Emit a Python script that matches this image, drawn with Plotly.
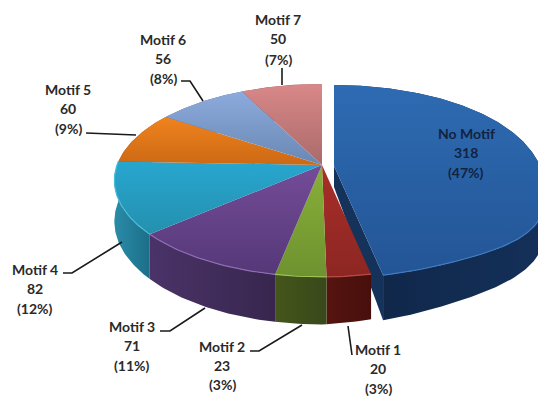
import numpy as np
import plotly.graph_objects as go

# ---- data ----
categories = ["No Motif", "Motif 1", "Motif 2", "Motif 3", "Motif 4", "Motif 5", "Motif 6", "Motif 7"]
values = [318, 20, 23, 71, 82, 60, 56, 50]
percents = ["(47%)", "(3%)", "(3%)", "(11%)", "(12%)", "(9%)", "(8%)", "(7%)"]

# ---- style ----
top_light = ["#2e6bb2", "#a82e29", "#88b038", "#744c98", "#28a6cf", "#f0831e", "#8caadc", "#d98888"]
top_dark = ["#235596", "#8c2622", "#6e9230", "#553878", "#2490ae", "#cc6914", "#6a88b4", "#aa6a6a"]
side_light = ["#14305a", "#561410", "#44561a", "#4a3368", "#2a8ca8", "#a05510", "#50688c", "#805050"]
side_dark = ["#0f2545", "#470f0c", "#39481a", "#38264e", "#1c6e88", "#a05510", "#50688c", "#805050"]
rim = ["#3f7cc4", "#b84a44", "#9cc450", "#8e6cb4", "#4cbcdc", "#f09a40", "#a0bce4", "#e0a0a0"]
text_colors = ["#12233f"] + ["#2a2a2a"] * 7

label_pos = {  # centre x, line y positions in pixels
    "No Motif": (466, [133, 152, 172]),
    "Motif 1": (378, [349, 368, 388]),
    "Motif 2": (222, [346, 365, 384]),
    "Motif 3": (132, [326, 345, 365]),
    "Motif 4": (35, [269, 288, 308]),
    "Motif 5": (68, [89, 108, 128]),
    "Motif 6": (163, [39, 58, 78]),
    "Motif 7": (278, [19, 38, 59]),
}
leaders = {
    "Motif 1": [(352, 355), (348, 326)],
    "Motif 2": [(250, 351), (259, 351), (302, 325)],
    "Motif 3": [(160, 331), (170, 331), (205, 308)],
    "Motif 4": [(63, 273), (72, 273), (122, 242)],
    "Motif 5": [(86, 133), (136, 135)],
    "Motif 6": [(181, 81), (190, 81), (203, 101)],
    "Motif 7": [(282, 68), (282, 85)],
}

# ---- perspective projection of the pie ----
W, H = 538, 396
CX, CY = 322, 165
A, B, K = 205, 94, 0.16
DEPTH = 40


def project(theta):
    d = 1 + K * np.cos(theta)
    return A * np.sin(theta) / d, -B * np.cos(theta) / d


def bulge(theta):
    # the photographed pie swells to the lower right, past the picture's edge
    w = np.clip(np.sin(2 * (theta - np.radians(78))), 0, 1)
    w = np.where((theta > np.radians(78)) & (theta < np.radians(168)), w, 0)
    return 10 * w ** 2, 6 * w ** 4


def depth(theta):
    s = np.sin(theta)
    return DEPTH / (1 + K * np.cos(theta)) * (1 - np.where(s > 0, 0.25, 0.0) * s)


fig = go.Figure()


def poly(xs, ys, c0, c1, kind="vertical"):
    fig.add_trace(go.Scatter(
        x=list(xs) + [xs[0]], y=list(ys) + [ys[0]], mode="lines", fill="toself",
        line=dict(width=0), hoverinfo="skip", showlegend=False,
        fillgradient=dict(type=kind, colorscale=[[0, c0], [1, c1]]),
    ))


total = sum(values)
edges = np.cumsum([0] + values) / total * 2 * np.pi
slices = []
for i in range(len(values)):
    th = np.linspace(edges[i], edges[i + 1], max(int((edges[i + 1] - edges[i]) * 60), 4))
    ox, oy = (12, 1) if i == 0 else (0, 0)
    u, v = project(th)
    if i == 0:
        du, dv = bulge(th)
        u, v = u + du, v + dv
    slices.append((i, th, CX + ox + u, CY + oy + v, ox, oy))

# sides (the blue wedge first, then its cut face)
for i, th, x, y, ox, oy in slices:
    yb = y + depth(th)
    poly(np.r_[x, x[::-1]], np.r_[y, yb[::-1]], side_dark[i] if i == 0 else side_light[i],
         side_light[i] if i == 0 else side_dark[i], "horizontal")
    if i == 0:
        ax, ay = CX + ox, CY + oy
        poly([ax, x[-1], x[-1], ax], [ay, y[-1], yb[-1], ay + 21], "#14325a", "#14325a")

# tops (gradient runs from the bottom of each shape upward)
for i, th, x, y, ox, oy in slices:
    ax, ay = CX + ox, CY + oy
    poly(np.r_[ax, x], np.r_[ay, y], top_dark[i], top_light[i])

# light rim along the front edge
for i, th, x, y, ox, oy in slices:
    front = np.cos(th) < 0.05
    if front.any():
        fig.add_trace(go.Scatter(x=x[front], y=y[front], mode="lines",
                                 line=dict(color=rim[i], width=1.2),
                                 hoverinfo="skip", showlegend=False))

# leader lines
for name, pts in leaders.items():
    fig.add_trace(go.Scatter(x=[p[0] for p in pts], y=[p[1] for p in pts], mode="lines",
                             line=dict(color="#1a1a1a", width=1.6),
                             hoverinfo="skip", showlegend=False))

# labels, line by line
for name, val, pct, col in zip(categories, values, percents, text_colors):
    cx, ys = label_pos[name]
    for text, yy in zip([name, str(val), pct], ys):
        fig.add_annotation(x=cx, y=yy, text=text, showarrow=False, xanchor="center", yanchor="middle",
                           font=dict(family="Lato", size=14, color=col, weight="bold"))

fig.update_layout(
    width=W, height=H, margin=dict(l=0, r=0, t=0, b=0),
    paper_bgcolor="white", plot_bgcolor="white", showlegend=False,
    xaxis=dict(range=[0, W], visible=False, fixedrange=True),
    yaxis=dict(range=[H, 0], visible=False, fixedrange=True),
)
fig.write_html("out.html", config=dict(displayModeBar=False),
               post_script="document.body.style.margin='0';document.documentElement.style.overflow='hidden';")
